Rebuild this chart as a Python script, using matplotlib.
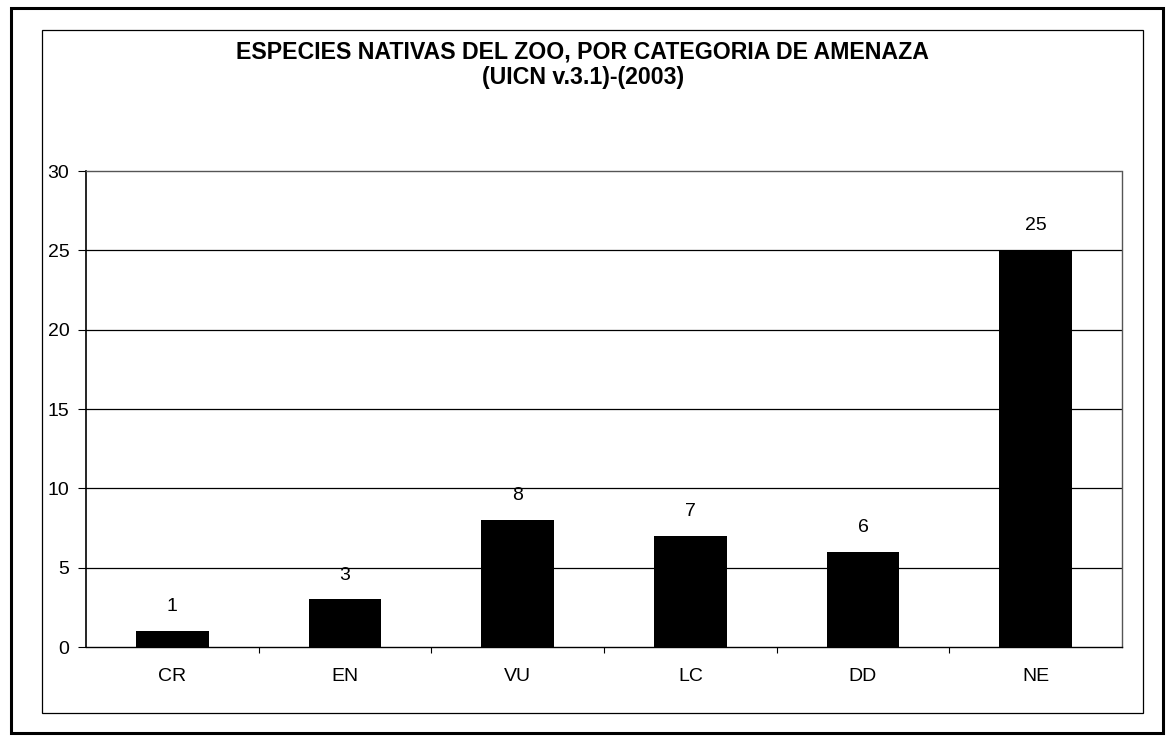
import matplotlib.pyplot as plt
from matplotlib.patches import Rectangle
import numpy as np

plt.rcParams['font.family'] = ['Liberation Sans', 'DejaVu Sans']

categorias = ["CR", "EN", "VU", "LC", "DD", "NE"]
especies = [1, 3, 8, 7, 6, 25]
titulo = "ESPECIES NATIVAS DEL ZOO, POR CATEGORIA DE AMENAZA\n(UICN v.3.1)-(2003)"

W, H = 1166, 737
fig = plt.figure(figsize=(W / 100, H / 100), dpi=100)

# marcos exterior e interior
fig.add_artist(Rectangle((11 / W, 1 - 733 / H), 1152 / W, 725 / H, transform=fig.transFigure,
                         fill=False, lw=2.2, ec="black"))
fig.add_artist(Rectangle((42 / W, 1 - 713 / H), 1101 / W, 683 / H, transform=fig.transFigure,
                         fill=False, lw=0.9, ec="black"))

ax = fig.add_axes([86 / W, 1 - 647 / H, (1122 - 86) / W, (647 - 171) / H])

x = np.arange(len(categorias))
barras = ax.bar(x, especies, width=0.42, color="black", zorder=3)
for xi, v in zip(x, especies):
    ax.text(xi, v + 1.0, str(v), ha="center", va="bottom", fontsize=14)

ax.set_xlim(-0.5, len(categorias) - 0.5)
ax.set_ylim(0, 30)
ax.set_yticks(range(0, 31, 5))
ax.set_xticks(x)
ax.set_xticklabels(categorias, fontsize=14)
ax.tick_params(axis="y", labelsize=14, length=6, width=0.8, pad=6)
ax.tick_params(axis="x", length=0, pad=15)
ax.set_xticks(np.arange(0.5, len(categorias) - 0.5), minor=True)
ax.tick_params(axis="x", which="minor", length=4, width=0.8)

for y in range(5, 30, 5):
    ax.axhline(y, color="black", lw=0.9, zorder=1)

ax.spines["left"].set_linewidth(1.2)
ax.spines["bottom"].set_linewidth(1.0)
ax.spines["bottom"].set_linestyle((0, (2, 1)))
for s in ("top", "right"):
    ax.spines[s].set_color("#555555")
    ax.spines[s].set_linestyle((0, (1, 1)))
    ax.spines[s].set_linewidth(1.0)

fig.text(0.5, 1 - 65 / H, titulo, ha="center", va="center", fontsize=16.7,
         fontweight="bold", linespacing=1.12)

fig.savefig("out.png", dpi=100)
